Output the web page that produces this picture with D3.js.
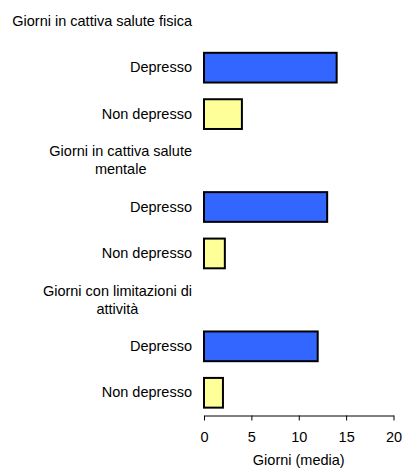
<!DOCTYPE html>
<html>
<head>
<meta charset="utf-8">
<script src="https://cdn.jsdelivr.net/npm/d3@7"></script>
<style>
  html, body { margin: 0; padding: 0; background: #fff; }
  svg { display: block; font-family: "Liberation Sans", Arial, sans-serif; }
</style>
</head>
<body>
<svg id="chart" width="402" height="470"></svg>
<script>
const groups = ["Giorni in cattiva salute fisica", "Giorni in cattiva salute mentale", "Giorni con limitazioni di attività"];
const categories = ["Depresso", "Non depresso"];
const depresso = [14, 13, 12];
const nonDepresso = [4, 2.2, 2];
const tickValues = [0, 5, 10, 15, 20];
const xTitle = "Giorni (media)";
const colors = { "Depresso": "#3366FF", "Non depresso": "#FFFF99" };

const fontSize = 14.5;
const svg = d3.select("#chart");

// Build rows: one label row per group, then one row per category
const rows = [];
groups.forEach((g, gi) => {
  rows.push({ key: "g" + gi, type: "group", label: g });
  rows.push({ key: "d" + gi, type: "bar", label: categories[0], value: depresso[gi] });
  rows.push({ key: "n" + gi, type: "bar", label: categories[1], value: nonDepresso[gi] });
});

const x = d3.scaleLinear().domain([0, 20]).range([204, 393.5]);
const y = d3.scaleBand().domain(rows.map(r => r.key)).range([-2, 416])
  .paddingInner(0.36).paddingOuter(0.18);

const labelRight = 192;

// Bars
svg.append("g").selectAll("rect")
  .data(rows.filter(r => r.type === "bar"))
  .join("rect")
  .attr("x", x(0))
  .attr("y", d => y(d.key))
  .attr("width", d => x(d.value) - x(0))
  .attr("height", y.bandwidth())
  .attr("fill", d => colors[d.label])
  .attr("stroke", "#000")
  .attr("stroke-width", 2);

// Category labels
svg.append("g").selectAll("text")
  .data(rows.filter(r => r.type === "bar"))
  .join("text")
  .attr("x", labelRight)
  .attr("y", d => y(d.key) + y.bandwidth() / 2)
  .attr("dy", "0.32em")
  .attr("text-anchor", "end")
  .attr("font-size", fontSize)
  .attr("fill", "#000")
  .text(d => d.label);

// Group labels (wrapped, block right-aligned, lines centered)
const maxW = 185, lineH = 18;
rows.filter(r => r.type === "group").forEach(r => {
  const t = svg.append("text").attr("font-size", fontSize).attr("fill", "#000").attr("text-anchor", "middle");
  const words = r.label.split(" ");
  const lines = [];
  let cur = [];
  const probe = t.append("tspan");
  words.forEach(w => {
    const test = cur.concat([w]).join(" ");
    probe.text(test);
    if (probe.node().getComputedTextLength() > maxW && cur.length) {
      lines.push(cur.join(" "));
      cur = [w];
    } else {
      cur.push(w);
    }
  });
  if (cur.length) lines.push(cur.join(" "));
  let widest = 0;
  lines.forEach(l => { probe.text(l); widest = Math.max(widest, probe.node().getComputedTextLength()); });
  probe.remove();
  const cx = labelRight - widest / 2;
  const cy = y(r.key) + y.bandwidth() / 2;
  const first = cy - (lines.length - 1) * lineH / 2;
  lines.forEach((l, i) => {
    t.append("tspan").attr("x", cx).attr("y", first + i * lineH).attr("dy", "0.32em").text(l);
  });
});

// Axis
const axisY = 415.5;
const axis = d3.axisBottom(x).tickValues(tickValues).tickSize(5).tickSizeOuter(0).tickPadding(11);
const ag = svg.append("g").attr("transform", `translate(0,${axisY})`).call(axis);
ag.selectAll("text").attr("font-size", fontSize).attr("font-family", "Liberation Sans, Arial, sans-serif").attr("fill", "#000");
ag.selectAll("line, path").attr("stroke", "#000");

svg.append("text")
  .attr("x", (x(0) + x(20)) / 2)
  .attr("y", 465)
  .attr("text-anchor", "middle")
  .attr("font-size", fontSize)
  .attr("fill", "#000")
  .text(xTitle);
</script>
</body>
</html>
